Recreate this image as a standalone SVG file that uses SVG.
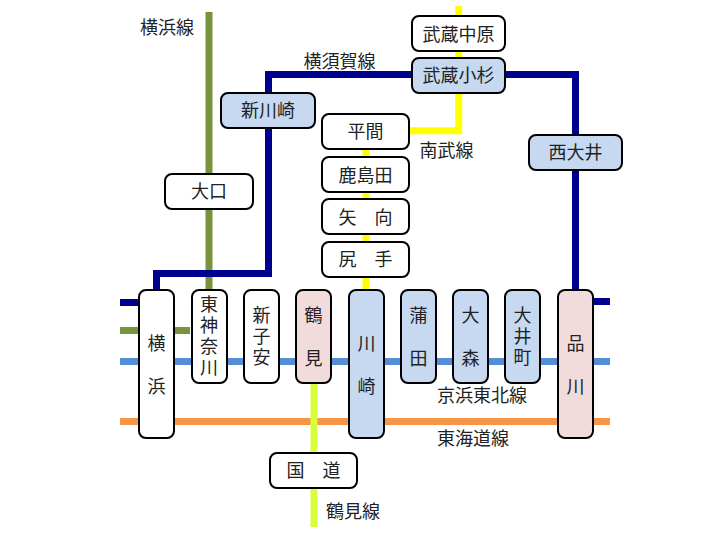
<svg xmlns="http://www.w3.org/2000/svg" width="720" height="540" viewBox="0 0 720 540">
<style>
text{font-family:"Noto Sans CJK JP","Noto Sans CJK SC",sans-serif;font-size:18px;fill:#222;text-anchor:middle}
rect{stroke:#000;stroke-width:2}
.w{fill:#fff}.b{fill:#c6d9f1}.p{fill:#f2dcdb}
path{fill:none;stroke-width:7}
</style>
<!-- railway lines -->
<g id="connectors">
<path d="M120 330.500H190" stroke="#77933c"/>
<path d="M209 12V290" stroke="#77933c"/>
<path d="M120 361.500H610" stroke="#558ed5"/>
<path d="M120 421.500H610" stroke="#f79646"/>
<path d="M314 380V527" stroke="#d7ff3c"/>
<path d="M458.700 6V130.700H408" stroke="#ffff00" stroke-width="6"/>
<path d="M366 140V295" stroke="#ffff00" stroke-width="6"/>
<path d="M120 302.500H150M590 301.500H610" stroke="#000090"/>
<path d="M156.500 292V273.500H268.500V74.500H575.500V292" stroke="#000090"/>
</g>
<g id="st-nakahara"><rect class="w" x="412" y="16" width="93" height="35" rx="7"/><text x="458.500" y="41">武蔵中原</text></g>
<g id="st-kosugi"><rect class="b" x="412" y="58" width="93" height="35" rx="7"/><text x="458.500" y="82">武蔵小杉</text></g>
<g id="st-shinkawasaki"><rect class="b" x="221" y="93" width="94" height="35" rx="7"/><text x="268" y="117">新川崎</text></g>
<g id="st-hirama"><rect class="w" x="322" y="114" width="87" height="35" rx="7"/><text x="365.500" y="138">平間</text></g>
<g id="st-kashimada"><rect class="w" x="322" y="157" width="87" height="35" rx="7"/><text x="365.500" y="182">鹿島田</text></g>
<g id="st-mukai"><rect class="w" x="322" y="199" width="87" height="35" rx="7"/><text x="365.500" y="224">矢　向</text></g>
<g id="st-shitte"><rect class="w" x="322" y="242" width="87" height="35" rx="7"/><text x="365.500" y="266">尻　手</text></g>
<g id="st-oguchi"><rect class="w" x="165" y="174" width="88" height="35" rx="7"/><text x="209" y="198">大口</text></g>
<g id="st-nishioi"><rect class="b" x="529" y="135" width="93" height="35" rx="7"/><text x="575.500" y="159">西大井</text></g>
<g id="st-kokudo"><rect class="w" x="270" y="453" width="87" height="35" rx="7"/><text x="313.500" y="477">国　道</text></g>
<g id="st-yokohama"><rect class="w" x="139" y="290" width="35" height="148" rx="7"/><text x="156.500" y="350">横<tspan x="156.500" dy="43">浜</tspan></text></g>
<g id="st-higashikanagawa"><rect class="w" x="192" y="290" width="35" height="93" rx="7"/><text x="209" y="311">東<tspan x="209" dy="21">神</tspan><tspan x="209" dy="21">奈</tspan><tspan x="209" dy="21">川</tspan></text></g>
<g id="st-shinkoyasu"><rect class="w" x="244" y="290" width="35" height="93" rx="7"/><text x="261.500" y="322">新<tspan x="261.500" dy="21">子</tspan><tspan x="261.500" dy="21">安</tspan></text></g>
<g id="st-tsurumi"><rect class="p" x="296" y="290" width="35" height="93" rx="7"/><text x="313.500" y="322">鶴<tspan x="313.500" dy="43">見</tspan></text></g>
<g id="st-kawasaki"><rect class="b" x="349" y="290" width="35" height="148" rx="7"/><text x="366.500" y="350">川<tspan x="366.500" dy="43">崎</tspan></text></g>
<g id="st-kamata"><rect class="b" x="401" y="290" width="35" height="93" rx="7"/><text x="418.500" y="322">蒲<tspan x="418.500" dy="43">田</tspan></text></g>
<g id="st-omori"><rect class="b" x="453" y="290" width="35" height="93" rx="7"/><text x="470.500" y="322">大<tspan x="470.500" dy="43">森</tspan></text></g>
<g id="st-oimachi"><rect class="b" x="505" y="290" width="35" height="93" rx="7"/><text x="522.500" y="322">大<tspan x="522.500" dy="21">井</tspan><tspan x="522.500" dy="21">町</tspan></text></g>
<g id="st-shinagawa"><rect class="p" x="558" y="290" width="35" height="148" rx="7"/><text x="575.500" y="350">品<tspan x="575.500" dy="43">川</tspan></text></g>
<!-- line names -->
<g id="labels">
<text x="167" y="34">横浜線</text>
<text x="339.500" y="68">横須賀線</text>
<text x="446.500" y="157">南武線</text>
<text x="482" y="402">京浜東北線</text>
<text x="473" y="445">東海道線</text>
<text x="353" y="518">鶴見線</text>
</g>
</svg>
